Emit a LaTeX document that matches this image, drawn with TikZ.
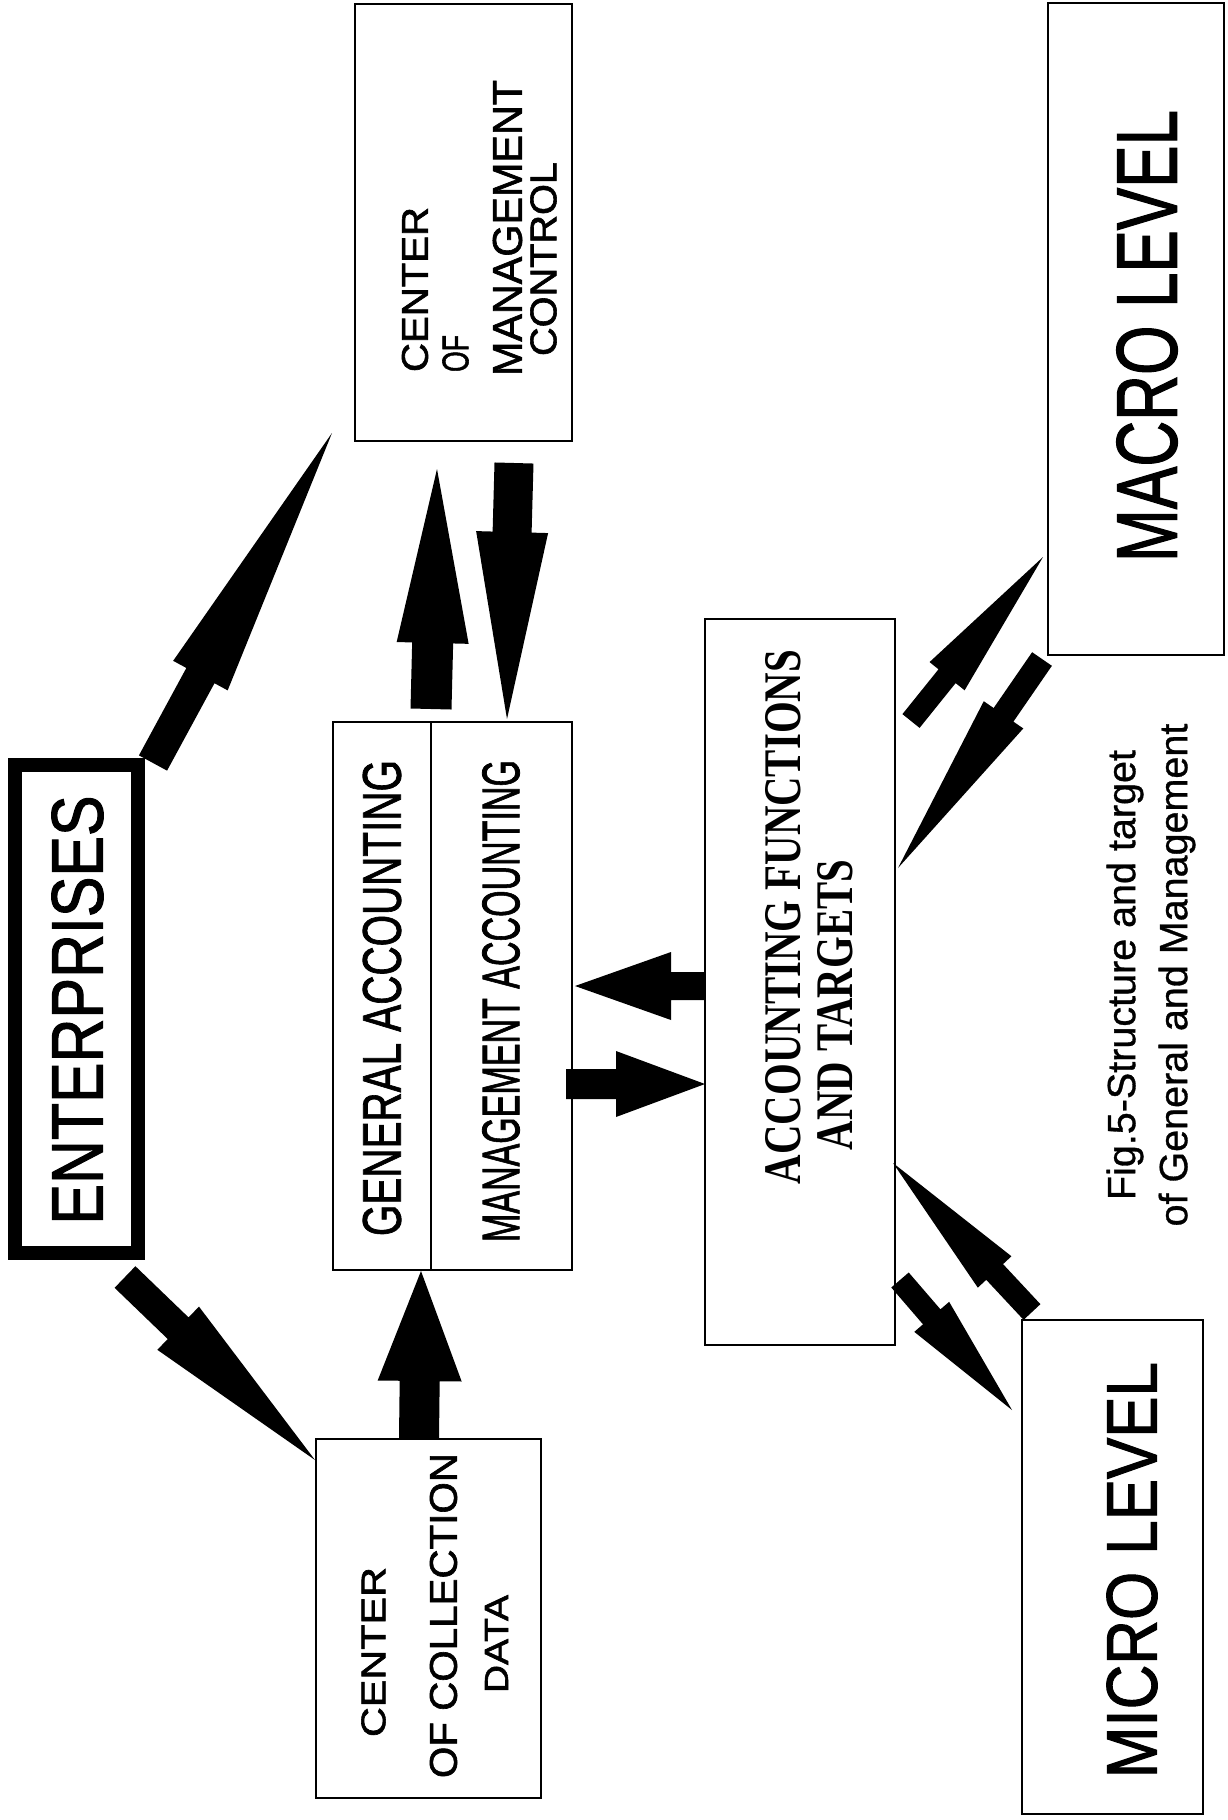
\documentclass[tikz,border=0pt]{standalone}
\usepackage{fontspec}
\setmainfont{Liberation Sans}
\newfontfamily\hsans{Liberation Sans}[FakeBold=1.6]
\newfontfamily\capsans{Liberation Sans}[FakeBold=0.8]
\newfontfamily\tmsfont{Liberation Serif}
\usepackage{graphicx}
\usetikzlibrary{calc}
\newcommand\fitt[3]{\resizebox{#1pt}{#2pt}{\hsans #3}}
% block arrow: tail, tip, shaft half width, head half width, head length
\newcommand\barrow[5]{%
  \coordinate (bA) at ($(#2)!#5pt!(#1)$);
  \fill ($(#1)!#3pt!90:(#2)$) -- ($(bA)!#3pt!-90:(#1)$) -- ($(bA)!#4pt!-90:(#1)$) -- (#2)
     -- ($(bA)!#4pt!90:(#1)$) -- ($(bA)!#3pt!90:(#1)$) -- ($(#1)!#3pt!-90:(#2)$) -- cycle;}
\tikzset{
  box/.style={draw, line width=1.6pt, rectangle, inner sep=0pt},
  lbl/.style={rotate=90, inner sep=0pt},
}
\begin{document}
\begin{tikzpicture}[x=1pt, y=-1pt]
\fill[white] (0,0) rectangle (1228,1820);
\useasboundingbox (0,0) rectangle (1228,1820);

% boxes
\node[box, line width=14pt, minimum width=123pt, minimum height=488pt] (ent) at (76.5,1009) {};
\node[box, minimum width=217pt, minimum height=437pt] (cmc) at (463.5,222.5) {};
\node[box, minimum width=239pt, minimum height=548pt] (ga) at (452.5,996) {};
\draw[line width=1.6pt] ([xshift=-21.5pt]ga.north) -- ([xshift=-21.5pt]ga.south);
\node[box, minimum width=190pt, minimum height=726pt] (af) at (800,982) {};
\node[box, minimum width=225pt, minimum height=359pt] (ccd) at (428.5,1618.5) {};
\node[box, minimum width=176pt, minimum height=652pt] (macro) at (1136,329) {};
\node[box, minimum width=181pt, minimum height=494pt] (micro) at (1112.5,1567) {};

% texts
\node[lbl] (ent-t) at (77.5,1010) {\fitt{429}{51}{ENTERPRISES}};

\node[lbl] (cmc-1) at (415,289.5) {\fitt{165}{26}{CENTER}};
\node[lbl] (cmc-2) at (455.5,353.5) {\fitt{37}{26}{OF}};
\node[lbl] (cmc-3) at (507.5,228) {\fitt{296}{29}{MANAGEMENT}};
\node[lbl] (cmc-4) at (543.5,259) {\fitt{194}{26}{CONTROL}};

\node[lbl] (ga-1) at (382,998) {\fitt{476}{38}{GENERAL ACCOUNTING}};
\node[lbl] (ga-2) at (501,1001) {\fitt{482}{37}{MANAGEMENT ACCOUNTING}};

\node[lbl] (af-1) at (783.5,917) {\resizebox{534pt}{35pt}{\tmsfont\bfseries ACCOUNTING FUNCTIONS}};
\node[lbl] (af-2) at (835.5,1005) {\resizebox{290pt}{35pt}{\tmsfont\bfseries AND TARGETS}};

\node[lbl] (ccd-1) at (373.5,1652) {\fitt{170}{24}{CENTER}};
\node[lbl] (ccd-2) at (443.5,1615.5) {\fitt{325}{27}{OF COLLECTION}};
\node[lbl] (ccd-3) at (496.5,1644) {\fitt{98}{23}{DATA}};

\node[lbl] (macro-t) at (1147,336) {\fitt{452}{60}{MACRO LEVEL}};
\node[lbl] (micro-t) at (1132,1570) {\fitt{416}{50}{MICRO LEVEL}};

\node[lbl, align=center, font=\capsans\fontsize{39.5}{52}\selectfont] (cap) at (1151,975)
  {Fig.5-Structure and target\\of General and Management};

% arrow end points
\coordinate (a1t) at (153,763);  \coordinate (a1h) at (332,433);
\coordinate (a2t) at (125,1277); \coordinate (a2h) at (315,1460);
\coordinate (a3t) at (419,1438); \coordinate (a3h) at (421,1271);
\coordinate (a4t) at (431,709);  \coordinate (a4h) at (437,469);
\coordinate (a5t) at (514,463);  \coordinate (a5h) at (507,719);
\coordinate (a6t) at (705,986);  \coordinate (a6h) at (575,986);
\coordinate (a7t) at (566,1084); \coordinate (a7h) at (705,1084);
\coordinate (a8t) at (911,721);  \coordinate (a8h) at (1043,557);
\coordinate (a9t) at (1042,659); \coordinate (a9h) at (898,868);
\coordinate (a10t) at (1032,1312); \coordinate (a10h) at (893,1163);
\coordinate (a11t) at (900,1280);  \coordinate (a11h) at (1012,1410);

\barrow{a1t}{a1h}{16}{31}{276}
\barrow{a2t}{a2h}{15}{30}{190}
\barrow{a3t}{a3h}{20}{42}{110}
\barrow{a4t}{a4h}{20.5}{36}{174}
\barrow{a5t}{a5h}{19.5}{36}{187}
\barrow{a6t}{a6h}{14}{34}{96}
\barrow{a7t}{a7h}{15}{33}{89}
\barrow{a8t}{a8h}{11}{22.5}{153}
\barrow{a9t}{a9h}{12}{24}{186}
\barrow{a10t}{a10h}{11.5}{23}{149}
\barrow{a11t}{a11h}{11.5}{23}{123}
\end{tikzpicture}
\end{document}
